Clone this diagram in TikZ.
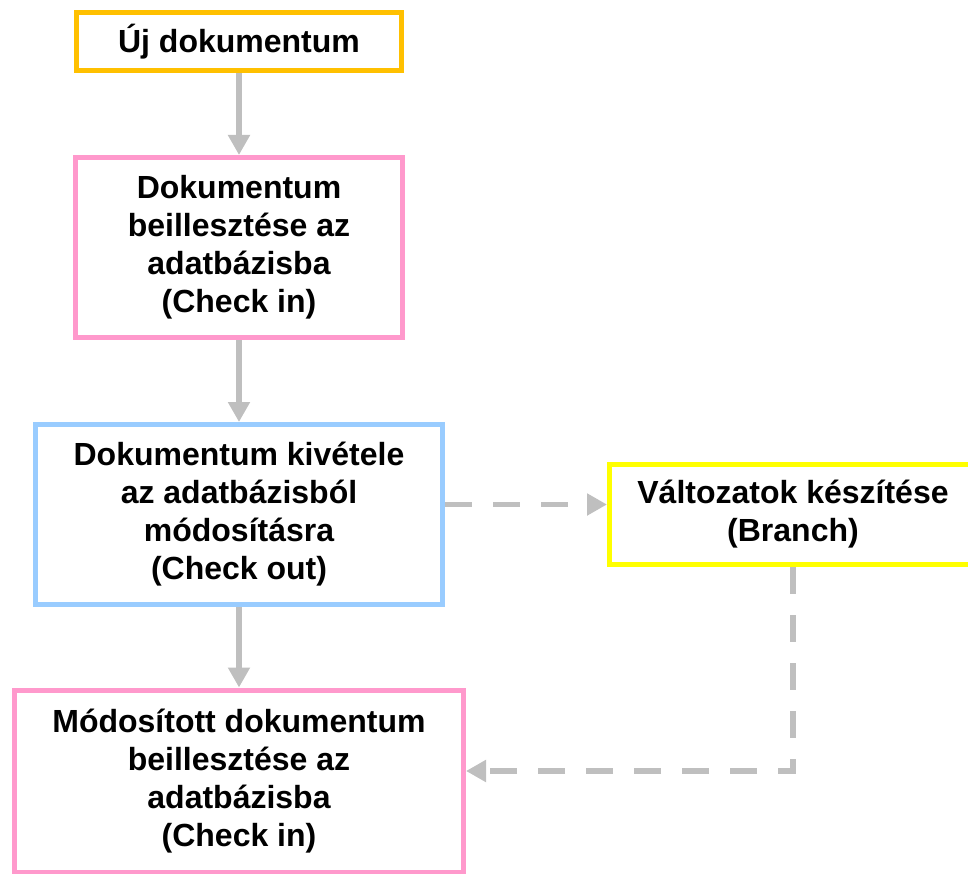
\documentclass[tikz,border=0pt]{standalone}
\usepackage{fontspec}
\setmainfont{Liberation Sans}
\usetikzlibrary{arrows, arrows.meta}
\usetikzlibrary{calc}

\definecolor{gold}{HTML}{FFC000}
\definecolor{pinkline}{HTML}{FF99CC}
\definecolor{blueline}{HTML}{99CCFF}
\definecolor{yellowline}{HTML}{FFFF00}
\definecolor{arrowgray}{HTML}{BFBFBF}

\begin{document}
\begin{tikzpicture}[x=1pt, y=1pt,
    box/.style={rectangle, draw, line width=5pt, fill=white, align=center,
      font=\fontsize{32}{38}\selectfont\bfseries, inner sep=0pt},
    flow/.style={draw=arrowgray, line width=5.5pt,
      -{Triangle[length=20pt, width=21pt]}},
    dflow/.style={flow, dash pattern=on 27pt off 21pt}]
      \clip (0,0) rectangle (968,-874);

      \node[box, draw=gold, minimum width=325pt, minimum height=58pt] (uj) at (239,-41.5) {Új dokumentum};
      \node[box, draw=pinkline, minimum width=327pt, minimum height=180pt] (checkin) at (239,-247.5) {Dokumentum\\beillesztése az\\adatbázisba\\(Check in)};
      \node[box, draw=blueline, minimum width=407pt, minimum height=180pt] (checkout) at (239,-514.5) {Dokumentum kivétele\\az adatbázisból\\módosításra\\(Check out)};
      \node[box, draw=yellowline, minimum width=367pt, minimum height=100pt] (branch) at (793,-514.5) {Változatok készítése\\(Branch)};
      \node[box, draw=pinkline, minimum width=449pt, minimum height=182pt] (modcheckin) at (239,-781) {Módosított dokumentum\\beillesztése az\\adatbázisba\\(Check in)};

      \draw[flow] (uj) -- (checkin);
      \draw[flow] (checkin) -- (checkout);
      \draw[flow] (checkout) -- (modcheckin);

      \draw[dflow] ([yshift=10pt]checkout.east) -- ([yshift=10pt]branch.west);
      \draw[dflow] (branch.south) |- ([yshift=10pt]modcheckin.east);
\end{tikzpicture}
\end{document}
